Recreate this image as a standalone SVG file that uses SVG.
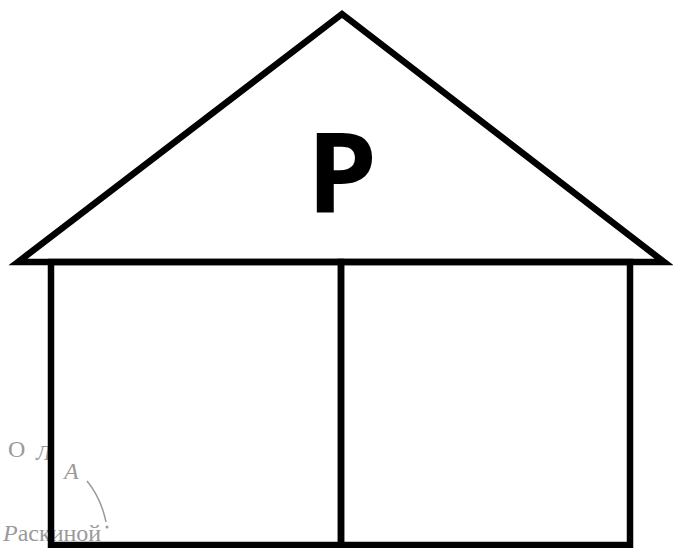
<svg xmlns="http://www.w3.org/2000/svg" width="673" height="548" viewBox="0 0 673 548">
  <style>
    .ln { fill: none; stroke: #000; stroke-width: 6.5; stroke-linejoin: miter; stroke-miterlimit: 12; }
    .faint { fill: #9a9a9a; font-family: "Liberation Serif", serif; }
    .lbl { font-family: "Open Sans", "Liberation Sans", sans-serif; font-weight: 700; fill: #000; }
  </style>
  <rect width="673" height="548" fill="#fff"/>
  <g id="background-text">
    <text class="faint" x="8" y="457" font-size="24">О</text>
    <text class="faint" x="36" y="460" font-size="22" font-style="italic">Л</text>
    <text class="faint" x="64" y="479" font-size="24" font-style="italic">А</text>
    <path d="M87,481 Q101,498 106,522" fill="none" stroke="#9a9a9a" stroke-width="1.5"/>
    <circle cx="107" cy="527" r="1.5" fill="#9a9a9a"/>
    <text class="faint" x="3" y="541" font-size="24" font-style="italic">Р<tspan font-style="normal">аскиной</tspan></text>
  </g>
  <g id="roof">
    <polygon class="ln" points="18,262 342,14 664,262"/>
    <text class="lbl" x="342" y="212" font-size="112" text-anchor="middle">P</text>
  </g>
  <g id="left-room">
    <rect class="ln" x="51" y="262" width="290" height="283"/>
  </g>
  <g id="right-room">
    <rect class="ln" x="341" y="262" width="289" height="283"/>
  </g>
</svg>
